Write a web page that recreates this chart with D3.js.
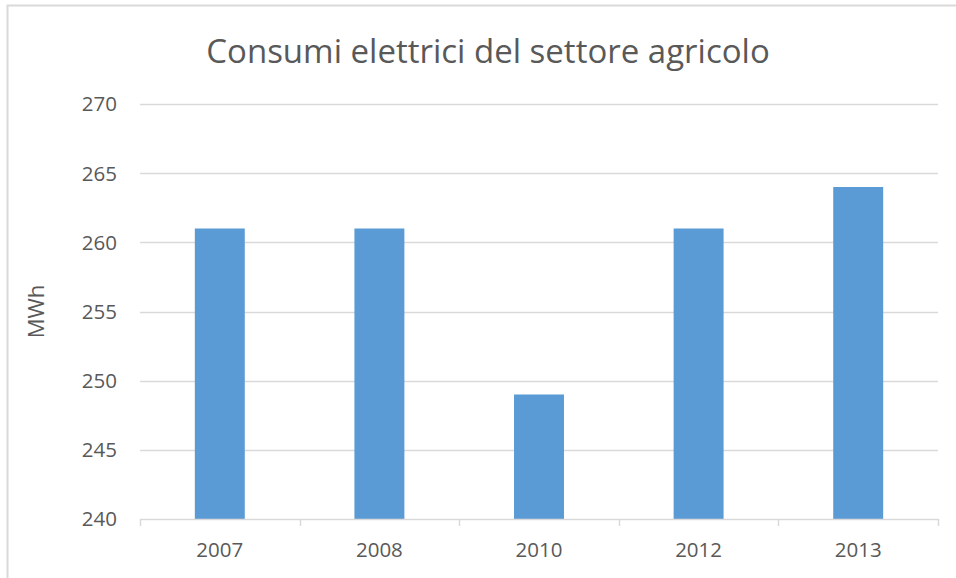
<!DOCTYPE html>
<html>
<head>
<meta charset="utf-8">
<script src="https://cdn.jsdelivr.net/npm/d3@7"></script>
<style>
  body { margin: 0; background: #fff; }
  text { font-family: "Open Sans", sans-serif; fill: #595959; }
</style>
</head>
<body>
<div id="chart"></div>
<script>
// dati
var years = ['2007', '2008', '2010', '2012', '2013'];
var consumi = [261, 261, 249, 261, 264];
var yTicks = [240, 245, 250, 255, 260, 265, 270];
var chartTitle = 'Consumi elettrici del settore agricolo';
var yLabel = 'MWh';

var width = 956,
    height = 578,
    margin = { left: 140, right: 18, top: 104, bottom: 59 };

var chartWidth = width - margin.left - margin.right;
var chartHeight = height - margin.top - margin.bottom;

var svg = d3.select('#chart').append('svg')
    .attr('width', width)
    .attr('height', height);

// bordo del grafico
svg.append('path')
    .attr('d', 'M7.5,' + height + 'V5.5H' + width)
    .attr('fill', 'none')
    .attr('stroke', '#d9d9d9')
    .attr('stroke-width', 2);

svg.append('text')
    .attr('x', 488)
    .attr('y', 63)
    .attr('text-anchor', 'middle')
    .style('font-size', '33px')
    .text(chartTitle);

var g = svg.append('g')
    .attr('transform', 'translate(' + margin.left + ',' + margin.top + ')');

var x = d3.scaleBand()
    .domain(years)
    .range([0, chartWidth])
    .paddingInner(0.687)
    .paddingOuter(0.3435);

var y = d3.scaleLinear()
    .domain([240, 270])
    .range([chartHeight, 0]);

// griglia
g.append('g').attr('class', 'grid')
    .selectAll('line')
    .data(yTicks.slice(1))
    .enter().append('line')
        .attr('x1', 0)
        .attr('x2', chartWidth)
        .attr('y1', function(d) { return Math.round(y(d)) + 0.5; })
        .attr('y2', function(d) { return Math.round(y(d)) + 0.5; })
        .attr('stroke', '#d9d9d9')
        .attr('stroke-width', 1.5);

g.append('g').attr('class', 'bars')
    .selectAll('rect')
    .data(consumi)
    .enter().append('rect')
        .attr('x', function(d, i) { return x(years[i]); })
        .attr('y', function(d) { return y(d); })
        .attr('width', x.bandwidth())
        .attr('height', function(d) { return chartHeight - y(d); })
        .attr('fill', '#5b9bd5');

// asse x
var xAxis = g.append('g')
    .attr('transform', 'translate(0,' + chartHeight + ')');

xAxis.append('line')
    .attr('x1', 0).attr('x2', chartWidth)
    .attr('y1', 0.5).attr('y2', 0.5)
    .attr('stroke', '#d9d9d9')
    .attr('stroke-width', 1.5);

var tickPos = years.map(function(d) { return x(d) - x.step() * x.paddingInner() / 2; });
tickPos.push(chartWidth);
xAxis.selectAll('.tick')
    .data(tickPos)
    .enter().append('line')
        .attr('x1', function(d) { return Math.round(d) + 0.5; })
        .attr('x2', function(d) { return Math.round(d) + 0.5; })
        .attr('y1', 0).attr('y2', 7)
        .attr('stroke', '#d9d9d9')
        .attr('stroke-width', 1.5);

xAxis.selectAll('.label')
    .data(years)
    .enter().append('text')
        .attr('x', function(d) { return x(d) + x.bandwidth() / 2; })
        .attr('y', 38)
        .attr('text-anchor', 'middle')
        .style('font-size', '20.5px')
        .text(function(d) { return d; });

// asse y
g.append('g')
    .selectAll('text')
    .data(yTicks)
    .enter().append('text')
        .attr('x', -23)
        .attr('y', function(d) { return y(d); })
        .attr('dy', '0.36em')
        .attr('text-anchor', 'end')
        .style('font-size', '20.5px')
        .text(function(d) { return d; });

svg.append('text')
    .attr('transform', 'translate(44,' + (margin.top + chartHeight / 2) + ') rotate(-90)')
    .attr('text-anchor', 'middle')
    .style('font-size', '22px')
    .text(yLabel);
</script>
</body>
</html>
